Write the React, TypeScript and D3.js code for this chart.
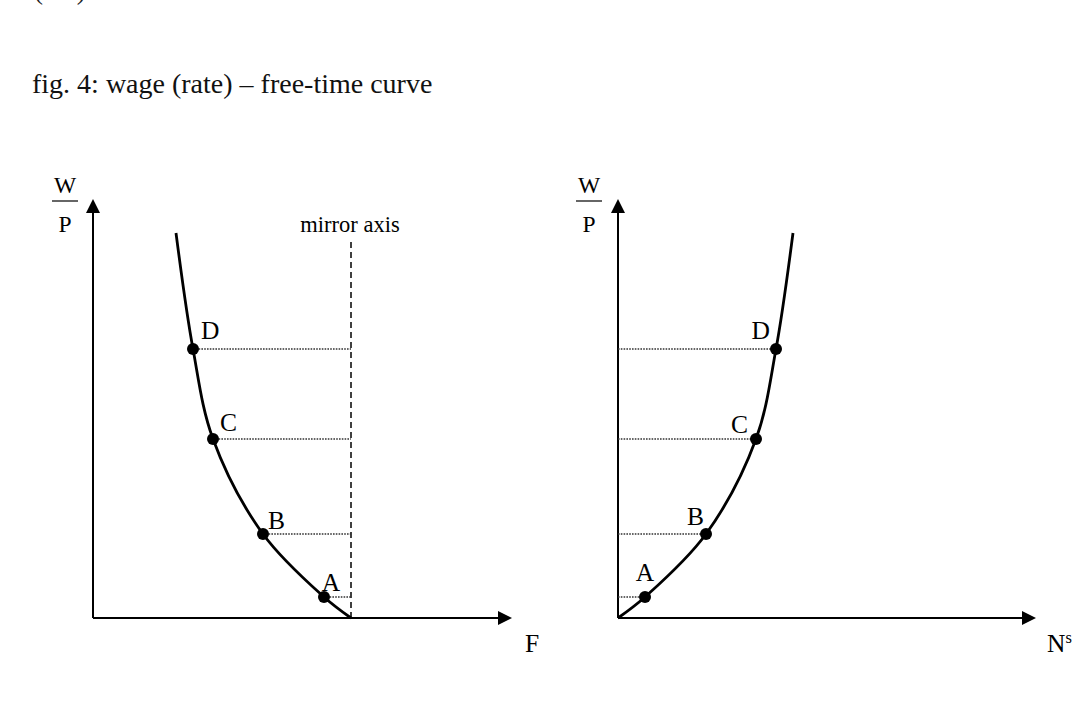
import React from "react";
import * as d3 from "d3";

// Data (in chart units: 1 unit ≈ 1 px of axis length)
const pointLabels = ["A", "B", "C", "D"];
// labour supplied N^s at each point (right panel), measured from origin
const laborValues = [27, 88, 138, 158];
// real wage W/P at each point
const wageValues = [21, 84, 179, 269];
// curve end (top) point
const curveTopLabor = 175;
const curveTopWage = 385;
// total time (position of the mirror axis on the F axis)
const totalTime = 258;

const titleText = "fig. 4: wage (rate) \u2013 free-time curve";
const topCutText = "(2.4)";
const mirrorAxisLabel = "mirror axis";
const leftXLabel = "F";
const rightXLabel = "N";
const rightXSup = "s";

const FONT = "'Liberation Serif', 'Times New Roman', serif";

type Pt = { x: number; y: number };

function Arrow({ x, y, dir }: { x: number; y: number; dir: "up" | "right" }) {
  const L = 14, H = 7;
  const d =
    dir === "up"
      ? `M${x},${y} L${x - H},${y + L} L${x + H},${y + L} Z`
      : `M${x},${y} L${x - L},${y - H} L${x - L},${y + H} Z`;
  return <path d={d} fill="#000" />;
}

function WP({ cx }: { cx: number }) {
  return (
    <g fontFamily={FONT} fontSize={23.5} textAnchor="middle">
      <text x={cx} y={193}>W</text>
      <line x1={cx - 13} x2={cx + 13} y1={201} y2={201} stroke="#000" strokeWidth={1.2} />
      <text x={cx} y={232}>P</text>
    </g>
  );
}

export default function App() {
  const width = 1092, height = 728;
  const y = d3.scaleLinear().domain([0, 420]).range([618, 198]);
  const xL = d3.scaleLinear().domain([0, 420]).range([93, 513]);
  const xR = d3.scaleLinear().domain([0, 418]).range([618, 1036]);

  const rightPts: Pt[] = [
    { x: 0, y: 0 },
    ...laborValues.map((n, i) => ({ x: n, y: wageValues[i] })),
    { x: curveTopLabor, y: curveTopWage },
  ];

  const lineR = d3
    .line<Pt>()
    .x((d) => xR(d.x))
    .y((d) => y(d.y))
    .curve(d3.curveCatmullRom.alpha(0.5));
  const lineL = d3
    .line<Pt>()
    .x((d) => xL(totalTime - d.x))
    .y((d) => y(d.y))
    .curve(d3.curveCatmullRom.alpha(0.5));

  // label offsets (style, px)
  const leftLabelOff = [
    { dx: 7, dy: -6, anchor: "middle" },
    { dx: 5, dy: -5, anchor: "start" },
    { dx: 7, dy: -8, anchor: "start" },
    { dx: 8, dy: -10, anchor: "start" },
  ];
  const rightLabelOff = [
    { dx: 0, dy: -16, anchor: "middle" },
    { dx: -2, dy: -9, anchor: "end" },
    { dx: -8, dy: -6, anchor: "end" },
    { dx: -6, dy: -10, anchor: "end" },
  ];

  const mirrorX = xL(totalTime);

  return (
    <svg
      width={width}
      height={height}
      style={{ position: "absolute", left: 0, top: 0, background: "#fff" }}
    >
      <rect x={0} y={0} width={width} height={height} fill="#fff" />
      <text x={34} y={-1} fontFamily={FONT} fontSize={27} fill="#222">{topCutText}</text>
      <text x={32} y={93} fontFamily={FONT} fontSize={28} fill="#111">{titleText}</text>

      {/* LEFT PANEL */}
      <g>
        <line x1={xL(0)} x2={xL(0)} y1={y(0)} y2={y(405)} stroke="#000" strokeWidth={2} />
        <Arrow x={xL(0)} y={y(419)} dir="up" />
        <line x1={xL(0)} x2={xL(405)} y1={y(0)} y2={y(0)} stroke="#000" strokeWidth={2} />
        <Arrow x={xL(419)} y={y(0)} dir="right" />
        <WP cx={65} />
        <text x={532} y={652} fontFamily={FONT} fontSize={25.5} textAnchor="middle">{leftXLabel}</text>

        {/* mirror axis */}
        <line x1={mirrorX} x2={mirrorX} y1={y(0)} y2={y(376)} stroke="#000" strokeWidth={1.5} strokeDasharray="6,4" />
        <text x={mirrorX - 1} y={232} fontFamily={FONT} fontSize={22.5} textAnchor="middle">{mirrorAxisLabel}</text>

        {/* dotted guide lines */}
        {laborValues.map((n, i) => (
          <line key={"gl" + i} x1={xL(totalTime - n)} x2={mirrorX} y1={y(wageValues[i])} y2={y(wageValues[i])}
            stroke="#333" strokeWidth={1.3} strokeDasharray="1.6,1.2" />
        ))}

        <path d={lineL(rightPts) || ""} fill="none" stroke="#000" strokeWidth={2.8} />
        {laborValues.map((n, i) => (
          <circle key={"cl" + i} cx={xL(totalTime - n)} cy={y(wageValues[i])} r={6} fill="#000" />
        ))}
        {laborValues.map((n, i) => (
          <text key={"tl" + i} x={xL(totalTime - n) + leftLabelOff[i].dx} y={y(wageValues[i]) + leftLabelOff[i].dy}
            fontFamily={FONT} fontSize={25.5} textAnchor={leftLabelOff[i].anchor as any}>{pointLabels[i]}</text>
        ))}
      </g>

      {/* RIGHT PANEL */}
      <g>
        <line x1={xR(0)} x2={xR(0)} y1={y(0)} y2={y(405)} stroke="#000" strokeWidth={2} />
        <Arrow x={xR(0)} y={y(419)} dir="up" />
        <line x1={xR(0)} x2={xR(404)} y1={y(0)} y2={y(0)} stroke="#000" strokeWidth={2} />
        <Arrow x={xR(418)} y={y(0)} dir="right" />
        <WP cx={589} />
        <text x={1047} y={652} fontFamily={FONT} fontSize={25.5}>
          {rightXLabel}
          <tspan fontSize={16.5} dy={-9}>{rightXSup}</tspan>
        </text>

        {laborValues.map((n, i) => (
          <line key={"gr" + i} x1={xR(0)} x2={xR(n)} y1={y(wageValues[i])} y2={y(wageValues[i])}
            stroke="#333" strokeWidth={1.3} strokeDasharray="1.6,1.2" />
        ))}

        <path d={lineR(rightPts) || ""} fill="none" stroke="#000" strokeWidth={2.8} />
        {laborValues.map((n, i) => (
          <circle key={"cr" + i} cx={xR(n)} cy={y(wageValues[i])} r={6} fill="#000" />
        ))}
        {laborValues.map((n, i) => (
          <text key={"tr" + i} x={xR(n) + rightLabelOff[i].dx} y={y(wageValues[i]) + rightLabelOff[i].dy}
            fontFamily={FONT} fontSize={25.5} textAnchor={rightLabelOff[i].anchor as any}>{pointLabels[i]}</text>
        ))}
      </g>
    </svg>
  );
}
